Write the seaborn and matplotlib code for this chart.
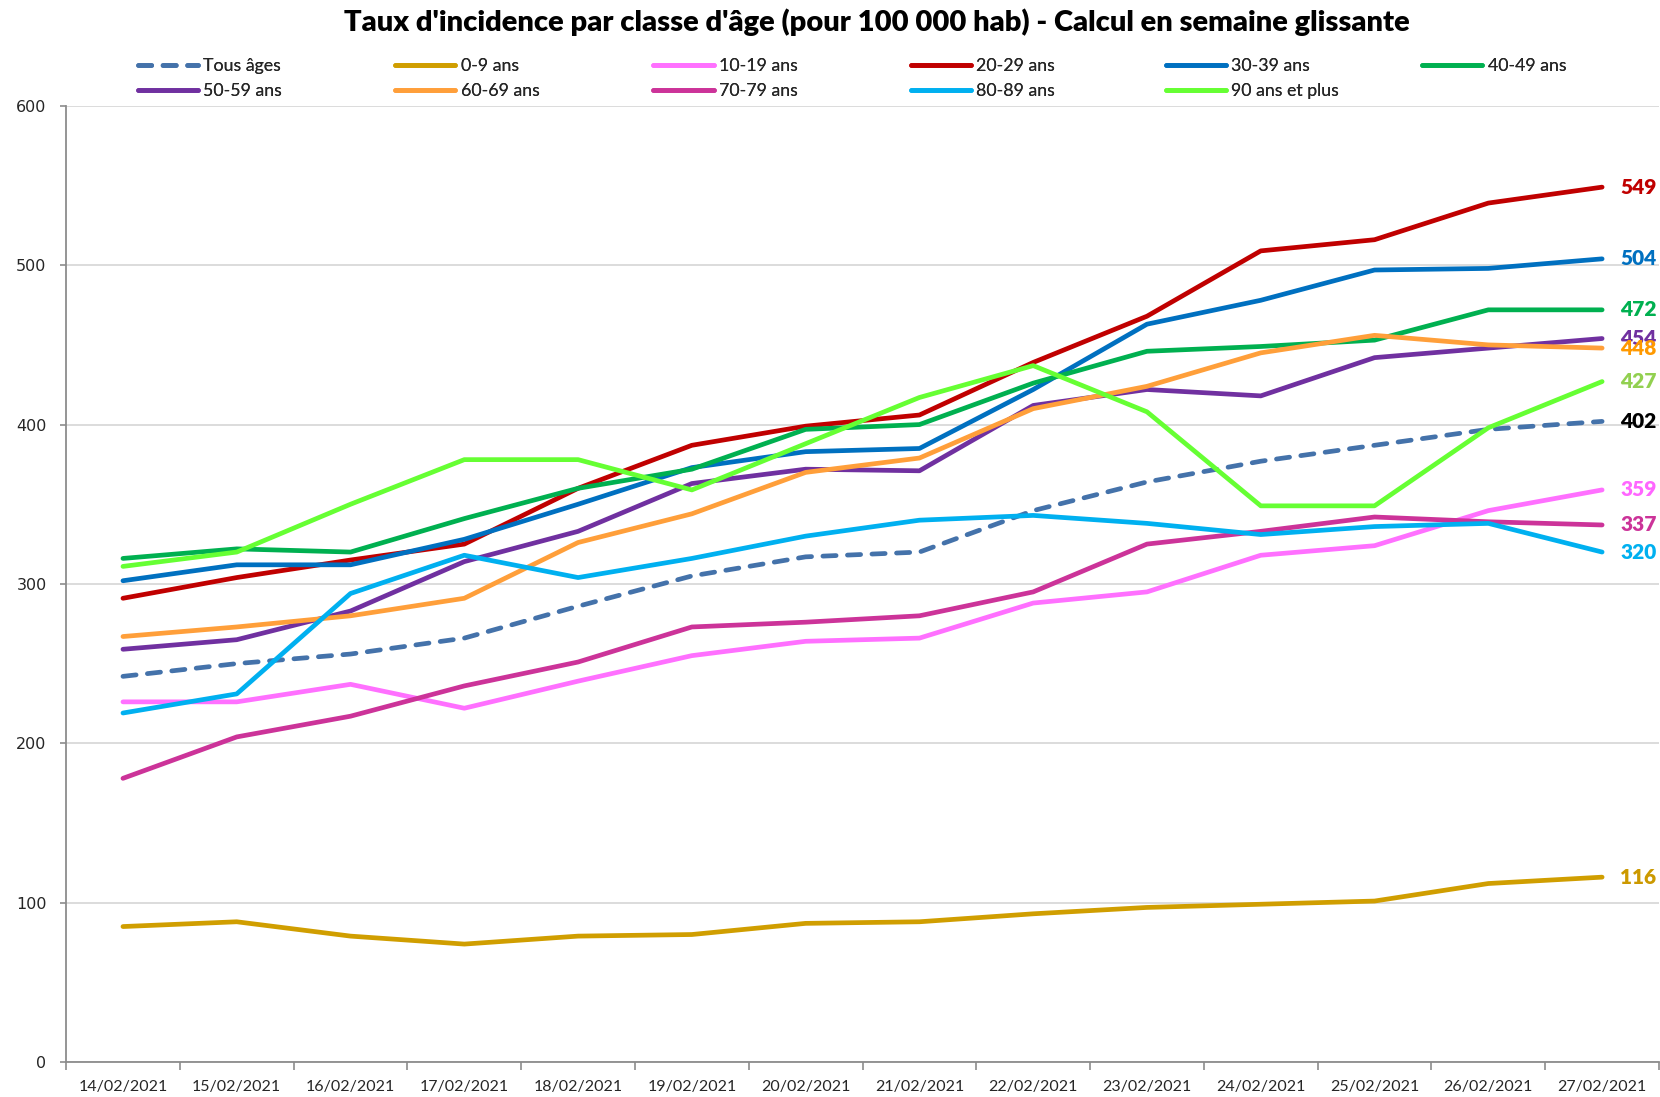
import numpy as np
import pandas as pd
import matplotlib
matplotlib.use("Agg")
import matplotlib.pyplot as plt
import seaborn as sns

dates = ["14/02/2021", "15/02/2021", "16/02/2021", "17/02/2021", "18/02/2021", "19/02/2021",
         "20/02/2021", "21/02/2021", "22/02/2021", "23/02/2021", "24/02/2021", "25/02/2021",
         "26/02/2021", "27/02/2021"]

tous_ages = [242, 250, 256, 266, 286, 305, 317, 320, 346, 364, 377, 387, 397, 402]
ans_0_9 = [85, 88, 79, 74, 79, 80, 87, 88, 93, 97, 99, 101, 112, 116]
ans_10_19 = [226, 226, 237, 222, 239, 255, 264, 266, 288, 295, 318, 324, 346, 359]
ans_20_29 = [291, 304, 315, 325, 360, 387, 399, 406, 439, 468, 509, 516, 539, 549]
ans_30_39 = [302, 312, 312, 328, 350, 373, 383, 385, 422, 463, 478, 497, 498, 504]
ans_40_49 = [316, 322, 320, 341, 360, 372, 397, 400, 426, 446, 449, 453, 472, 472]
ans_50_59 = [259, 265, 283, 314, 333, 363, 372, 371, 412, 422, 418, 442, 448, 454]
ans_60_69 = [267, 273, 280, 291, 326, 344, 370, 379, 410, 424, 445, 456, 450, 448]
ans_70_79 = [178, 204, 217, 236, 251, 273, 276, 280, 295, 325, 333, 342, 339, 337]
ans_80_89 = [219, 231, 294, 318, 304, 316, 330, 340, 343, 338, 331, 336, 338, 320]
ans_90_plus = [311, 320, 350, 378, 378, 359, 388, 417, 437, 408, 349, 349, 398, 427]

series_names = ["Tous âges", "0-9 ans", "10-19 ans", "20-29 ans", "30-39 ans", "40-49 ans",
                "50-59 ans", "60-69 ans", "70-79 ans", "80-89 ans", "90 ans et plus"]
series_values = [tous_ages, ans_0_9, ans_10_19, ans_20_29, ans_30_39, ans_40_49,
                 ans_50_59, ans_60_69, ans_70_79, ans_80_89, ans_90_plus]
line_colors = ["#4472AA", "#D09E00", "#FF70FF", "#C00000", "#0070C0", "#00B050",
               "#7030A0", "#FF9F3A", "#CC3399", "#00B0F0", "#66FF33"]
label_colors = ["#000000", "#CC9900", "#FF66FF", "#C00000", "#0070C0", "#00B050",
                "#7030A0", "#FF9900", "#CC3399", "#00B0F0", "#92D050"]

sns.set_theme(style="white")
plt.rcParams["font.family"] = ["Lato", "DejaVu Sans"]

fig = plt.figure(figsize=(16.6, 10.97), dpi=100)
ax = fig.add_axes([0.0398, 0.0319, 0.9596, 0.8716])

xpos = np.arange(len(dates))
handles = []
for name, vals, col in zip(series_names, series_values, line_colors):
    df = pd.DataFrame({"x": xpos, "y": vals})
    sns.lineplot(data=df, x="x", y="y", ax=ax, color=col, lw=3.4, legend=False, zorder=3)
    ln = ax.lines[-1]
    ln.set_solid_capstyle("round")
    ln.set_solid_joinstyle("round")
    if name == "Tous âges":
        ln.set_dashes((2.8, 2.4))
        ln.set_dash_capstyle("round")
    ln.set_label(name)
    handles.append(ln)

for vals, col in zip(series_values, label_colors):
    ax.annotate(str(vals[-1]), xy=(xpos[-1], vals[-1]), xytext=(13, 0),
                textcoords="offset points", ha="left", va="center",
                fontsize=15, fontweight="heavy", color=col, zorder=5)

ax.set_xlim(-0.5, len(dates) - 0.5)
ax.set_ylim(0, 600)
ax.set_yticks(range(0, 601, 100))
ax.set_xticks(xpos)
ax.set_xticklabels(dates)
ax.set_xticks(np.arange(-0.5, len(dates), 1), minor=True)
ax.set_xlabel("")
ax.set_ylabel("")

ax.yaxis.grid(True, color="#D9D9D9", lw=1.3)
ax.xaxis.grid(False)
ax.set_axisbelow(True)
for s in ["top", "right"]:
    ax.spines[s].set_visible(False)
for s in ["left", "bottom"]:
    ax.spines[s].set_color("#8C8C8C")
    ax.spines[s].set_linewidth(1.3)

ax.tick_params(axis="y", which="major", direction="out", length=4, width=1.2,
               color="#8C8C8C", left=True, pad=10, labelsize=11.5)
for lab in ax.get_yticklabels():
    lab.set_family("DejaVu Sans")
ax.tick_params(axis="x", which="major", length=0, pad=13, labelsize=11.5)
ax.tick_params(axis="x", which="minor", direction="out", length=6, width=1.2,
               color="#8C8C8C", bottom=True)

fig.text(0.528, 0.980, "Taux d'incidence par classe d'âge (pour 100 000 hab) - Calcul en semaine glissante",
         ha="center", va="center", fontsize=21, fontweight="heavy", color="#000000")

col_x = [137.6, 394.9, 653.2, 910.5, 1165.6, 1421.8]
for j in range(6):
    hs = [handles[j]]
    if j + 6 < len(handles):
        hs.append(handles[j + 6])
    leg = fig.legend(handles=hs, labels=[h.get_label() for h in hs], loc="upper left",
                     bbox_to_anchor=(col_x[j] / 1660, 1 - 58 / 1097),
                     frameon=False, borderpad=0, borderaxespad=0, handlelength=3.4,
                     handletextpad=0.3, labelspacing=0.5, fontsize=12.8)
    fig.add_artist(leg)

fig.savefig("out.png", dpi=100)
